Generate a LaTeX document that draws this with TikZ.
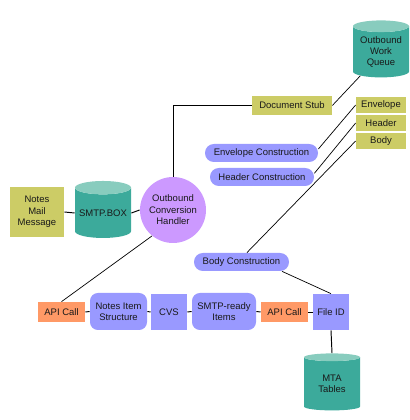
\documentclass[tikz,border=0pt]{standalone}
\usepackage{fontspec}
\setmainfont{Liberation Sans}
\usepackage{xcolor}
\usetikzlibrary{shapes.geometric}
\definecolor{stubyellow}{RGB}{204,204,102}
\definecolor{stagepurple}{RGB}{153,153,255}
\definecolor{calloorange}{RGB}{255,153,102}
\definecolor{handlerlilac}{RGB}{204,153,255}
\definecolor{storeteal}{RGB}{60,170,155}
\definecolor{storetop}{RGB}{136,204,190}
\tikzset{
  flowtext/.style={font=\fontsize{5.4}{6.5}\selectfont,align=center,inner sep=0pt,text=black!90},
  stubbox/.style={flowtext,fill=stubyellow},
  stagebox/.style={flowtext,fill=stagepurple},
  stagepill/.style={stagebox,rounded corners=5pt},
  stagesoft/.style={stagebox,rounded corners=4.5pt},
  callbox/.style={flowtext,fill=calloorange,minimum width=0.94cm,minimum height=0.40cm},
  store/.style={flowtext,cylinder,shape border rotate=90,aspect=0.28,draw=none,
      cylinder uses custom fill,cylinder body fill=storeteal,cylinder end fill=storetop,
      minimum width=1.12cm,minimum height=1.14cm},
  link/.style={line width=0.55pt,black},
  thinlink/.style={line width=0.4pt,black}
}
\begin{document}
\begin{tikzpicture}
\useasboundingbox (0,0) rectangle (8.2,8.4);
% Top row
\node[store] (queue) at (7.62,7.36) {Outbound\\Work\\Queue};
\node[stubbox,minimum width=1.6cm,minimum height=0.38cm] (stub) at (5.84,6.29) {Document Stub};
\node[stubbox,minimum width=1.0cm,minimum height=0.32cm] (envelope) at (7.62,6.30) {Envelope};
\node[stubbox,minimum width=1.0cm,minimum height=0.32cm] (header) at (7.62,5.94) {Header};
\node[stubbox,minimum width=1.0cm,minimum height=0.32cm] (body) at (7.62,5.58) {Body};
\node[stagepill,minimum width=2.26cm,minimum height=0.36cm] (envcons) at (5.23,5.34) {Envelope Construction};
\node[stagepill,minimum width=2.08cm,minimum height=0.36cm] (hdrcons) at (5.24,4.86) {Header Construction};
\node[stagepill,minimum width=1.90cm,minimum height=0.36cm] (bodycons) at (4.83,3.16) {Body Construction};

% Inbound side
\node[stubbox,minimum width=1.08cm,minimum height=1.0cm] (mail) at (0.74,4.16) {Notes\\Mail\\Message};
\node[store] (smtpbox) at (2.06,4.14) {SMTP.BOX};
\node[flowtext,circle,fill=handlerlilac,minimum size=1.32cm] (handler) at (3.46,4.20) {Outbound\\Conversion\\Handler};

% Bottom row
\node[callbox] (apileft) at (1.23,2.16) {API Call};
\node[stagesoft,minimum width=1.14cm,minimum height=0.74cm] (items) at (2.37,2.17) {Notes Item\\Structure};
\node[stagebox,minimum size=0.72cm] (cvs) at (3.38,2.16) {CVS};
\node[stagesoft,minimum width=1.28cm,minimum height=0.74cm] (ready) at (4.48,2.17) {SMTP-ready\\Items};
\node[callbox] (apiright) at (5.69,2.16) {API Call};
\node[stagebox,minimum size=0.72cm] (fileid) at (6.62,2.16) {File ID};
\node[store] (mta) at (6.64,0.72) {MTA\\Tables};

% Connectors
\draw[link] (stub.west) -| (handler.north);
\draw[thinlink] (stub.east) -- (queue.229);
\draw[thinlink] (envcons.4) -- (envelope.west);
\draw[thinlink] (hdrcons.4) -- (header.west);
\draw[thinlink] (bodycons.60) -- (body.west);
\draw[thinlink] (bodycons.-13.2) -- (fileid.north);
\draw[thinlink] (handler.231) -- (apileft.north);
\draw[link] (mail.east) -- (smtpbox.west);
\draw[link] (smtpbox.east) -- (handler.west);
\draw[link] (apileft.east) -- (items.west);
\draw[link] (items.east) -- (cvs.west);
\draw[link] (cvs.east) -- (ready.west);
\draw[link] (ready.east) -- (apiright.west);
\draw[link] (apiright.east) -- (fileid.west);
\draw[link] (fileid.south) -- (mta.north);
\end{tikzpicture}
\end{document}
